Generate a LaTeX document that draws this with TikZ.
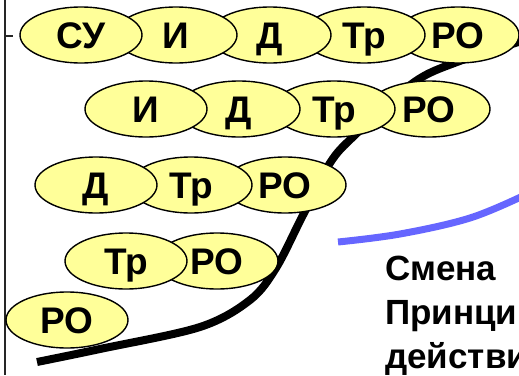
\documentclass[tikz,border=0pt]{standalone}
\usepackage{fontspec}
\setmainfont{Liberation Sans}
\usetikzlibrary{shapes.geometric}
\definecolor{pale}{HTML}{FFFF99}
\definecolor{bluel}{HTML}{6666FF}
\tikzset{
  oval/.style={ellipse, draw=black, line width=1.4pt, fill=pale,
    minimum width=122pt, minimum height=56pt, inner sep=0pt,
    text height=26pt, text depth=0pt,
    font=\bfseries\fontsize{37}{37}\selectfont},
  lbl/.style={anchor=base west, inner sep=0pt,
    font=\bfseries\fontsize{35}{35}\selectfont}
}
\begin{document}
\begin{tikzpicture}[x=1pt,y=-1pt]
\useasboundingbox (0,0) rectangle (519,375);
% axis
\coordinate (axtop) at (5,0);
\coordinate (axbot) at (5,375);
\coordinate (tick0) at (5,36);
\coordinate (tick) at (13,36);
\draw[line width=1.4pt, black!85] (axtop) -- (axbot);
\draw[line width=1.4pt, black!85] (tick0) -- (tick);
% S-curve
\draw[line width=8pt] plot[smooth, tension=0.55] coordinates
  {(37,362) (100,349) (200,327) (250,300) (276,268) (302,217) (330,163) (355,135) (413,83) (457,62) (525,40)};
% blue curve
\draw[line width=7pt, bluel] plot[smooth, tension=0.6] coordinates
  {(338,242) (400,234) (470,218) (525,195)};
% row 1
\node[oval] (a5) at (458,35) {РО};
\node[oval] (a4) at (364,35) {Тр};
\node[oval] (a3) at (270,35) {Д};
\node[oval] (a2) at (176,35) {И};
\node[oval] (a1) at (81,35) {СУ};
% row 2
\node[oval] (b4) at (429,109) {РО};
\node[oval] (b3) at (334,109) {Тр};
\node[oval] (b2) at (239,109) {Д};
\node[oval] (b1) at (146,109) {И};
% row 3
\node[oval] (c3) at (285,185) {РО};
\node[oval] (c2) at (191,185) {Тр};
\node[oval] (c1) at (96,185) {Д};
% row 4
\node[oval] (d2) at (217,261) {РО};
\node[oval] (d1) at (126,261) {Тр};
% row 5
\node[oval] (e1) at (67,320) {РО};
% text
\node[lbl] (t1) at (385,280) {Смена};
\node[lbl] (t2) at (385,324) {Принципа};
\node[lbl] (t3) at (385,368) {действия};
\end{tikzpicture}
\end{document}
